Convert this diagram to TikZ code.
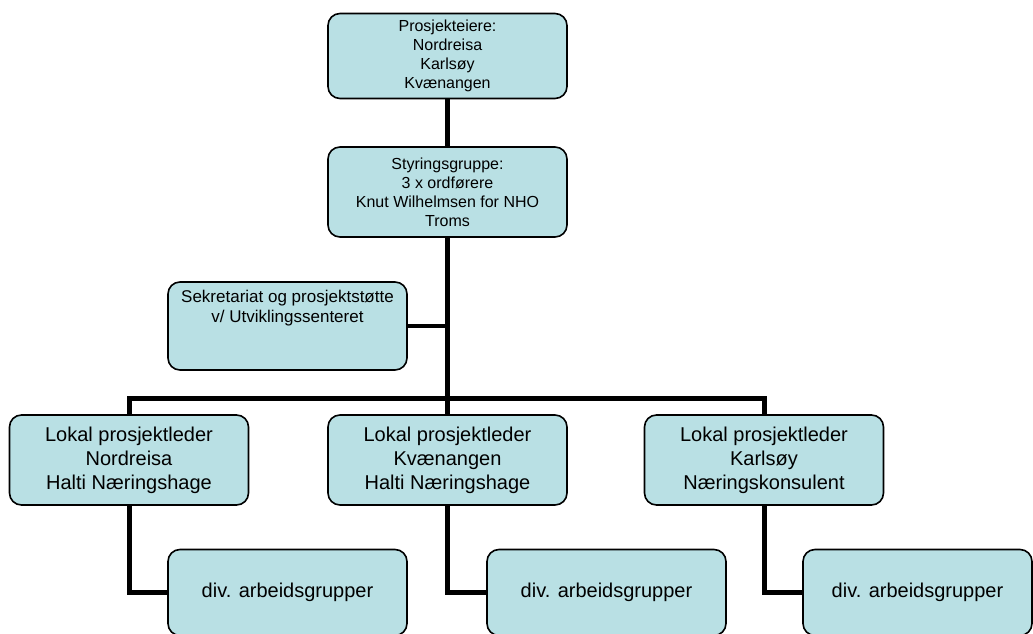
\documentclass[tikz,border=0pt]{standalone}
\usepackage{fontspec}
\setmainfont{Liberation Sans}
\usetikzlibrary{positioning}
\definecolor{boxfill}{RGB}{185,224,228}
\tikzset{
  orgbox/.style={draw=black, line width=1.6pt, fill=boxfill, rounded corners=12pt,
    minimum width=239pt, align=center, inner sep=0pt},
  smalltext/.style={font=\fontsize{16}{19}\selectfont},
  midtext/.style={font=\fontsize{17}{20}\selectfont, align=center, inner sep=0pt},
  largetext/.style={font=\fontsize{20}{24}\selectfont},
  link/.style={line width=5pt}
}

\begin{document}
\begin{tikzpicture}[x=1pt,y=-1pt]
    \useasboundingbox (0,0) rectangle (1033,634);
    \clip (0,0) rectangle (1033,634);

    \node[orgbox,smalltext,minimum height=85pt] (eiere) at (447.5,56)
      {Prosjekteiere:\\Nordreisa\\Karlsøy\\Kvænangen};
    \node[orgbox,smalltext,minimum height=90pt] (styr) at (447.5,192)
      {Styringsgruppe:\\3 x ordførere\\Knut Wilhelmsen for NHO\\Troms};
    \node[orgbox,minimum height=88pt] (sek) at (287.5,326) {};
    \node[midtext,below=9pt of sek.north] (sektext)
      {Sekretariat og prosjektstøtte\\v/ Utviklingssenteret};

    \node[orgbox,largetext,minimum height=90pt] (lok1) at (129,460)
      {Lokal prosjektleder\\Nordreisa\\Halti Næringshage};
    \node[orgbox,largetext,minimum height=90pt] (lok2) at (447.5,460)
      {Lokal prosjektleder\\Kvænangen\\Halti Næringshage};
    \node[orgbox,largetext,minimum height=90pt] (lok3) at (764,460)
      {Lokal prosjektleder\\Karlsøy\\Næringskonsulent};

    \node[orgbox,largetext,minimum height=86pt] (arb1) at (287.5,592.5) {div. arbeidsgrupper};
    \node[orgbox,largetext,minimum height=86pt] (arb2) at (606.5,592.5) {div. arbeidsgrupper};
    \node[orgbox,largetext,minimum height=86pt,minimum width=229pt] (arb3) at (917.5,592.5) {div. arbeidsgrupper};

    \coordinate (bus) at (447.5,398);

    \draw[link] (eiere.south) -- (styr.north);
    \draw[link] (styr.south) -- (bus);
    \draw[line width=4pt] (sek.east) -- (sek.east -| bus);
    \draw[link] (lok1.north) |- (bus) -| (lok3.north);
    \draw[link] (bus) -- (lok2.north);
    \draw[link] (lok1.south) |- (arb1.west);
    \draw[link] (lok2.south) |- (arb2.west);
    \draw[link] (lok3.south) |- (arb3.west);

\end{tikzpicture}
\end{document}
